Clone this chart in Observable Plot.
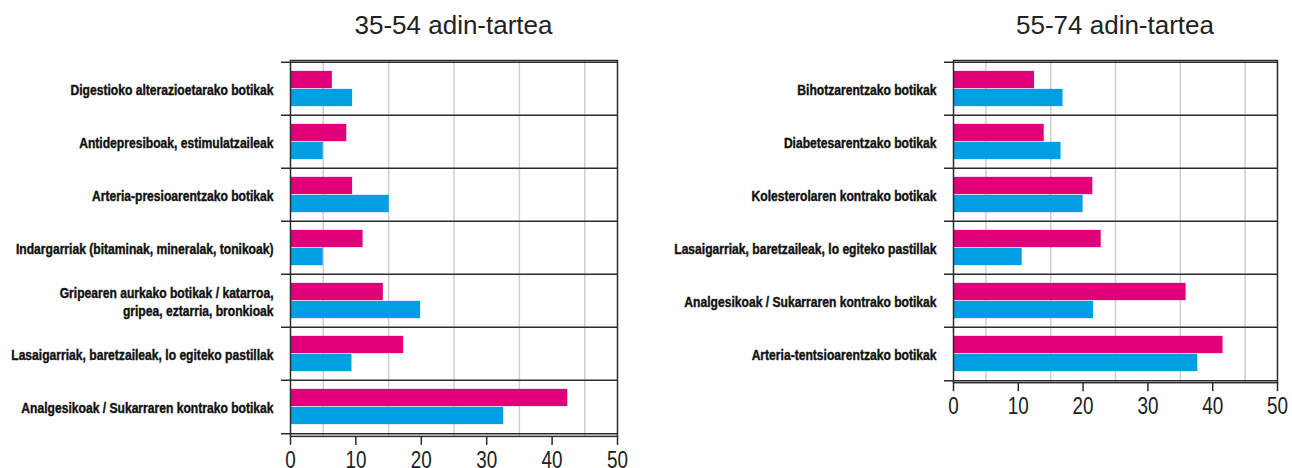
<!DOCTYPE html>
<html><head><meta charset="utf-8">
<script src="https://cdn.jsdelivr.net/npm/d3@7"></script>
<script src="https://cdn.jsdelivr.net/npm/@observablehq/plot@0.6"></script>
<style>
body{margin:0;background:#fff;}
#wrap{position:relative;width:1292px;height:468px;overflow:hidden;font-family:"Liberation Sans",sans-serif;}
.panel{position:absolute;top:0;}
.title{box-sizing:border-box;height:45px;padding-top:12px;font-size:26px;line-height:26px;text-align:center;color:#222;}
svg{display:block;overflow:visible;}
</style></head><body><div id="wrap"></div>
<script>
const categories35 = [
  "Digestioko alterazioetarako botikak",
  "Antidepresiboak, estimulatzaileak",
  "Arteria-presioarentzako botikak",
  "Indargarriak (bitaminak, mineralak, tonikoak)",
  "Gripearen aurkako botikak / katarroa,\ngripea, eztarria, bronkioak",
  "Lasaigarriak, baretzaileak, lo egiteko pastillak",
  "Analgesikoak / Sukarraren kontrako botikak"
];
const women35 = [6.4, 8.6, 9.5, 11.1, 14.2, 17.3, 42.4];
const men35   = [9.5, 5.0, 15.1, 5.0, 19.9, 9.4, 32.6];

const categories55 = [
  "Bihotzarentzako botikak",
  "Diabetesarentzako botikak",
  "Kolesterolaren kontrako botikak",
  "Lasaigarriak, baretzaileak, lo egiteko pastillak",
  "Analgesikoak / Sukarraren kontrako botikak",
  "Arteria-tentsioarentzako botikak"
];
const women55 = [12.5, 14.0, 21.5, 22.8, 35.9, 41.6];
const men55   = [16.9, 16.6, 20.0, 10.6, 21.6, 37.7];

const xTicks = [0, 10, 20, 30, 40, 50];
const gridValues = [5, 15, 25, 35, 45];
const titles = ["35-54 adin-tartea", "55-74 adin-tartea"];

const pinkColor = "#E2007A";
const blueColor = "#009FE3";
const lineColor = "#2b2b2b";
const font = "'Liberation Sans',sans-serif";

function panel({categories, women, men, title, left, width, marginLeft, marginRight}) {
  const bandH = 53.7, marginTop = 15, marginBottom = 32, barH = 18;
  const height = marginTop + bandH * categories.length + marginBottom;
  const pad = (bandH - 2 * barH) / 2;
  const rows = categories.map((c, i) => ({cat: c, women: women[i], men: men[i]}));
  const div = document.createElement("div");
  div.className = "panel";
  div.style.left = left + "px";
  div.style.width = width + "px";
  const t = document.createElement("div");
  t.className = "title";
  t.style.paddingLeft = marginLeft + "px";
  t.style.paddingRight = marginRight + "px";
  t.textContent = title;
  div.appendChild(t);
  const plot = Plot.plot({
    width, height, marginTop, marginBottom, marginLeft, marginRight,
    style: {fontFamily: font, background: "transparent", color: "#111"},
    x: {domain: [0, 50]},
    y: {domain: categories, padding: 0, axis: null},
    marks: [
      Plot.ruleX(gridValues, {stroke: "#cfcfcf", strokeWidth: 1.5}),
      Plot.barX(rows, {y: "cat", x: "women", fill: pinkColor, insetTop: pad, insetBottom: pad + barH}),
      Plot.barX(rows, {y: "cat", x: "men", fill: blueColor, insetTop: pad + barH, insetBottom: pad}),
      Plot.ruleY(categories, {y: d => d, dy: -bandH / 2, insetLeft: -9, stroke: lineColor, strokeWidth: 1.5}),
      Plot.ruleY(categories.slice(-1), {y: d => d, dy: bandH / 2, insetLeft: -9, stroke: lineColor, strokeWidth: 1.5}),
      Plot.frame({stroke: lineColor, strokeWidth: 1.5}),
      Plot.axisX({ticks: xTicks, tickSize: 9, tickPadding: 6, fontSize: 23, label: null, stroke: lineColor, strokeWidth: 1.5, fill: "#222"}),
      Plot.text(categories, {y: d => d, text: d => d, frameAnchor: "left", textAnchor: "end", dx: -17,
        fontSize: 14, fontWeight: "bold", lineHeight: 1.29, fill: "#111", stroke: "#111", strokeWidth: 0.4})
    ]
  });
  div.appendChild(plot);
  document.getElementById("wrap").appendChild(div);
  return plot;
}

function squeeze(texts, s, anchor) {
  texts.forEach(t => {
    const b = t.getBBox();
    const ax = anchor === "end" ? b.x + b.width : b.x + b.width / 2;
    const tr = t.getAttribute("transform") || "";
    t.setAttribute("transform", `${tr} translate(${ax},0) scale(${s},1) translate(${-ax},0)`);
  });
}

const plots = [
  panel({categories: categories35, women: women35, men: men35, title: titles[0], left: 0, width: 640, marginLeft: 290, marginRight: 23}),
  panel({categories: categories55, women: women55, men: men55, title: titles[1], left: 640, width: 652, marginLeft: 313, marginRight: 15})
];

// condensed look: scale label and tick texts horizontally
const allLabels = plots.flatMap(p => [...p.querySelectorAll('g[aria-label="text"] text')]);
const ref = allLabels.find(t => t.textContent === categories35[0]);
const labelScale = ref ? 203 / ref.getComputedTextLength() : 0.8;
squeeze(allLabels, labelScale, "end");
const allTicks = plots.flatMap(p => [...p.querySelectorAll('g[aria-label="x-axis tick label"] text')]);
const refTick = allTicks.find(t => t.textContent === "50");
const tickScale = refTick ? 21 / refTick.getComputedTextLength() : 0.85;
squeeze(allTicks, tickScale, "middle");
</script>
</body></html>
